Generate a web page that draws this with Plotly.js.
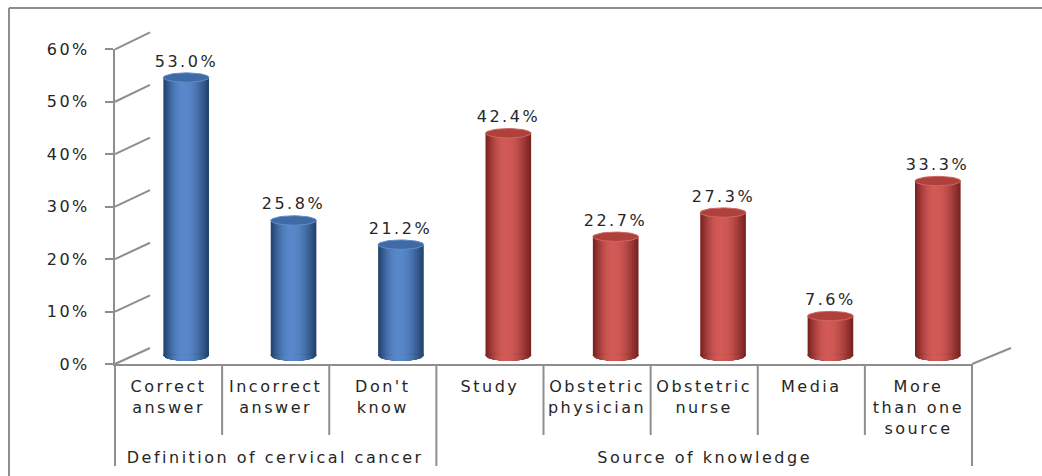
<!DOCTYPE html>
<html>
<head>
<meta charset="utf-8">
<script src="https://cdn.plot.ly/plotly-3.0.1.min.js"></script>
<style>
  html, body { margin: 0; padding: 0; background: #fff; }
  #chart { width: 1042px; height: 476px; }
  #chart text { letter-spacing: 2.5px; }
</style>
</head>
<body>
<div id="chart"></div>
<script>
// ---- data ----
const categories = ["Correct<br>answer", "Incorrect<br>answer", "Don't<br>know", "Study",
                    "Obstetric<br>physician", "Obstetric<br>nurse", "Media", "More<br>than one<br>source"];
const groups = ["Definition of cervical cancer", "Definition of cervical cancer", "Definition of cervical cancer",
                "Source of knowledge", "Source of knowledge", "Source of knowledge", "Source of knowledge", "Source of knowledge"];
const values = [53.0, 25.8, 21.2, 42.4, 22.7, 27.3, 7.6, 33.3];
const yTickValues = [0, 10, 20, 30, 40, 50, 60];
const yTickLabels = ["0%", "10%", "20%", "30%", "40%", "50%", "60%"];
const groupNames = ["Definition of cervical cancer", "Source of knowledge"];

// ---- geometry of the pseudo-3D box (pixels) ----
const W = 1042, H = 476;
const px = p => p / W;
const py = p => 1 - p / H;
const front = { l: 115, r: 972, y0: 364, yTop: 49.3 };
const back  = { l: 150, r: 1011, y0: 348, yTop: 32.3 };
const mid = {
  l: (front.l + back.l) / 2, r: (front.r + back.r) / 2,
  y0: (front.y0 + back.y0) / 2, yTop: (front.yTop + back.yTop) / 2
};
const yMax = 60;
const midPx = (mid.y0 - mid.yTop) / yMax;          // pixels per percent on the bar plane
const midLo = -3, midHi = 62;                        // bar plane range, room for the round base

const gridColor = "#8e8e8e";
const textColor = "#262626";
const fontFamily = "DejaVu Sans, Verdana, sans-serif";

// ---- cylinder shading ----
const palettes = [
  { edge: [36, 68, 112], light: [88, 136, 202], top: "rgb(62,106,166)", rim: "rgb(100,140,198)" },
  { edge: [122, 36, 34], light: [210, 90, 86],  top: "rgb(176,64,60)",  rim: "rgb(206,104,99)" }
];
const groupOf = groups.map(g => groupNames.indexOf(g));
const rx = 0.2125;            // half bar width in category units
const ry = 4.7 / midPx;       // half height of the elliptical caps in percent units
const nBands = 12;
const hi = -0.12 * rx;        // highlight position, slightly left of centre

function mix(a, b, t) {
  return "rgb(" + a.map((v, i) => Math.round(v + (b[i] - v) * t)).join(",") + ")";
}

const traces = [];

// invisible trace carrying the categories of the front axis
traces.push({
  type: "scatter", mode: "markers",
  x: categories, y: values,
  marker: { opacity: 0 }, hoverinfo: "skip", showlegend: false,
  xaxis: "x2", yaxis: "y2"
});

// cylinder bodies: nested bars from the dark rim to the highlight
const idx = values.map((_, i) => i);
const bandEdges = [];
for (let k = 0; k < nBands; k++) {
  const t = k / (nBands - 1);
  const left = -rx + (hi + rx) * k / nBands;
  const right = rx - (rx - hi) * k / nBands;
  const s = Math.sin(t * Math.PI / 2);
  const cols = groupOf.map(g => mix(palettes[g].edge, palettes[g].light, s));
  bandEdges.push({ left, right, s });
  traces.push({
    type: "bar", x: idx, y: values,
    offset: left, width: right - left,
    marker: { color: cols, line: { width: 0 } },
    hoverinfo: "skip", showlegend: false,
    xaxis: "x3", yaxis: "y3"
  });
}

// rounded bottoms, shaded the same way
for (let k = 0; k < nBands; k++) {
  const { left, right, s } = bandEdges[k];
  for (let g = 0; g < palettes.length; g++) {
    const xs = [], ys = [];
    idx.forEach(i => {
      if (groupOf[i] !== g) return;
      const steps = 16;
      for (let j = 0; j <= steps; j++) {
        const u = left + (right - left) * j / steps;
        const q = Math.max(0, 1 - (u / rx) * (u / rx));
        xs.push(i + u); ys.push(-ry * Math.sqrt(q));
      }
      xs.push(i + right, i + left); ys.push(0.3, 0.3);
      xs.push(null); ys.push(null);
    });
    traces.push({
      type: "scatter", mode: "lines", x: xs, y: ys,
      fill: "toself", fillcolor: mix(palettes[g].edge, palettes[g].light, s),
      line: { width: 0 }, hoverinfo: "skip", showlegend: false,
      xaxis: "x3", yaxis: "y3"
    });
  }
}

// elliptical tops
for (let g = 0; g < palettes.length; g++) {
  const xs = [], ys = [];
  idx.forEach(i => {
    if (groupOf[i] !== g) return;
    const steps = 48;
    for (let j = 0; j <= steps; j++) {
      const a = 2 * Math.PI * j / steps;
      xs.push(i + rx * Math.cos(a)); ys.push(values[i] + ry * Math.sin(a));
    }
    xs.push(null); ys.push(null);
  });
  traces.push({
    type: "scatter", mode: "lines", x: xs, y: ys,
    fill: "toself", fillcolor: palettes[g].top,
    line: { width: 1, color: palettes[g].rim }, hoverinfo: "skip", showlegend: false,
    xaxis: "x3", yaxis: "y3"
  });
}

// ---- frame lines of the box ----
const shapes = [];
const line = (x0, y0, x1, y1, w) => ({
  type: "line", xref: "paper", yref: "paper",
  x0: px(x0), y0: py(y0), x1: px(x1), y1: py(y1),
  line: { color: gridColor, width: w || 2 }
});
// outer border
shapes.push(line(9, 8, 1045, 8));
shapes.push(line(9, 8, 9, 480));
// side-wall connectors from the front axis to the back grid
const fy = v => front.y0 - (front.y0 - front.yTop) * v / yMax;
const by = v => back.y0 - (back.y0 - back.yTop) * v / yMax;
yTickValues.forEach(v => shapes.push(line(front.l, fy(v), back.l, by(v))));
// right edge of the floor
shapes.push(line(front.r, front.y0, back.r, back.y0));
// separators of the category table
const catW = (front.r - front.l) / categories.length;
for (let k = 0; k <= categories.length; k++) {
  const isGroupEdge = k === 0 || k === categories.length || groups[k] !== groups[k - 1];
  const x = front.l + k * catW;
  shapes.push(line(x, front.y0, x, isGroupEdge ? 466 : 435));
}

// ---- value labels ----
const annotations = values.map((v, i) => ({
  xref: "x3", yref: "y3", x: i, y: v,
  text: v.toFixed(1) + "%", showarrow: false,
  yanchor: "bottom", yshift: 5,
  font: { family: fontFamily, size: 16, color: textColor }
}));

// ---- group labels under the category row ----
groupNames.forEach(name => {
  const members = idx.filter(i => groups[i] === name);
  const centre = (members[0] + members[members.length - 1]) / 2;
  annotations.push({
    xref: "x2", yref: "paper", x: centre, y: py(457),
    text: name, showarrow: false, yanchor: "middle",
    font: { family: fontFamily, size: 16, color: textColor }
  });
});

const layout = {
  width: W, height: H,
  margin: { l: 0, r: 0, t: 0, b: 0 },
  paper_bgcolor: "#ffffff", plot_bgcolor: "rgba(0,0,0,0)",
  showlegend: false, barmode: "overlay",
  font: { family: fontFamily, color: textColor },
  // back wall: horizontal grid
  xaxis: {
    domain: [px(back.l), px(back.r)], range: [0, 1],
    showgrid: false, zeroline: false, showline: false, showticklabels: false, ticks: "",
    fixedrange: true
  },
  yaxis: {
    domain: [py(back.y0), py(back.yTop)], range: [0, yMax],
    tickvals: yTickValues, showgrid: true, gridcolor: gridColor, gridwidth: 2,
    zeroline: true, zerolinecolor: gridColor, zerolinewidth: 2,
    showticklabels: false, ticks: "", showline: false, fixedrange: true
  },
  // front plane: value axis and category row
  xaxis2: {
    type: "category", anchor: "y2",
    domain: [px(front.l), px(front.r)], range: [-0.5, categories.length - 0.5],
    showline: true, linecolor: gridColor, linewidth: 2,
    ticks: "", showgrid: false, zeroline: false,
    ticklabelstandoff: 7,
    tickfont: { family: fontFamily, size: 16, color: textColor },
    fixedrange: true
  },
  yaxis2: {
    anchor: "x2",
    domain: [py(front.y0), py(front.yTop)], range: [0, yMax],
    tickmode: "array", tickvals: yTickValues, ticktext: yTickLabels,
    showline: true, linecolor: gridColor, linewidth: 2,
    ticks: "outside", ticklen: 8, tickwidth: 2, tickcolor: gridColor,
    ticklabelstandoff: 12,
    showgrid: false, zeroline: false,
    tickfont: { family: fontFamily, size: 16, color: textColor },
    fixedrange: true
  },
  // middle plane: the cylinders
  xaxis3: {
    anchor: "y3", domain: [px(mid.l), px(mid.r)], range: [-0.5, categories.length - 0.5],
    showgrid: false, zeroline: false, showline: false, showticklabels: false, ticks: "",
    fixedrange: true
  },
  yaxis3: {
    anchor: "x3",
    domain: [py(mid.y0 - midLo * midPx), py(mid.y0 - midHi * midPx)], range: [midLo, midHi],
    showgrid: false, zeroline: false, showline: false, showticklabels: false, ticks: "",
    fixedrange: true
  },
  shapes: shapes,
  annotations: annotations
};

Plotly.newPlot("chart", traces, layout, { displayModeBar: false, staticPlot: true });
</script>
</body>
</html>
